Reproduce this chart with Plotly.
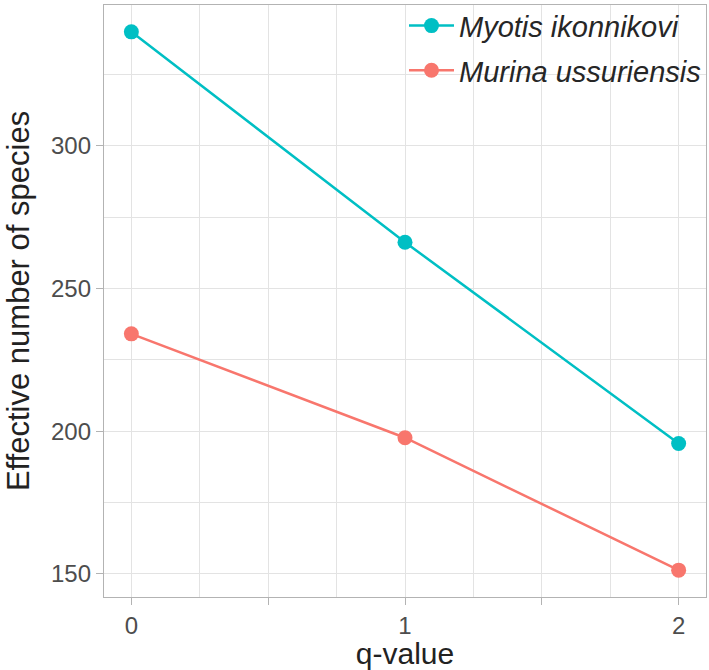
import plotly.graph_objects as go

q_values = [0, 1, 2]
myotis = [339.9, 266.2, 195.7]
murina = [234.1, 197.7, 151.3]
series_names = ["Myotis ikonnikovi", "Murina ussuriensis"]
x_tickvals = [0, 0.5, 1, 1.5, 2]
x_ticktext = ["0", "", "1", "", "2"]
y_tickvals = [150, 200, 250, 300]

teal = "#00BFC4"
salmon = "#F8766D"
font_family = "Liberation Sans, Arial, Helvetica, sans-serif"

fig = go.Figure()
for name, vals, col, grp in [(series_names[0], myotis, teal, "a"), (series_names[1], murina, salmon, "b")]:
    fig.add_trace(go.Scatter(
        x=q_values, y=vals, mode="lines+markers",
        name="<i>" + name + "</i>", legendgroup=grp,
        line=dict(color=col, width=2.5),
        marker=dict(color=col, size=15),
    ))

grid_col = "#E3E3E3"
border_col = "#B3B3B3"
fig.update_layout(
    width=709, height=670,
    margin=dict(l=104, r=3, t=5, b=73, autoexpand=False),
    paper_bgcolor="white", plot_bgcolor="white",
    font=dict(family=font_family, color="#4D4D4D", size=24),
    showlegend=True,
    legend=dict(
        x=1, xanchor="right", y=1.008, yanchor="top",
        bgcolor="rgba(0,0,0,0)", borderwidth=0,
        font=dict(size=29, color="#262626", family=font_family),
        traceorder="grouped", tracegroupgap=4,
        itemwidth=45,
    ),
)
fig.update_xaxes(
    range=[-0.1, 2.1], automargin=False,
    tickvals=x_tickvals, ticktext=x_ticktext,
    ticks="outside", ticklen=7, tickwidth=1.3, tickcolor=border_col,
    showgrid=True, gridcolor=grid_col, gridwidth=1.1,
    minor=dict(dtick=0.25, tick0=0, showgrid=True, gridcolor=grid_col, gridwidth=0.6),
    showline=True, linecolor=border_col, linewidth=1.3, mirror=True,
    zeroline=False,
    tickfont=dict(size=24, color="#4D4D4D"),
    title=dict(text="q-value", font=dict(size=30, color="#222222"), standoff=10),
)
fig.update_yaxes(
    range=[141.9, 349.3], automargin=False,
    tickvals=y_tickvals,
    ticks="outside", ticklen=7, tickwidth=1.3, tickcolor=border_col,
    showgrid=True, gridcolor=grid_col, gridwidth=1.1,
    minor=dict(dtick=25, tick0=0, showgrid=True, gridcolor=grid_col, gridwidth=0.6),
    showline=True, linecolor=border_col, linewidth=1.3, mirror=True,
    zeroline=False,
    tickfont=dict(size=24, color="#4D4D4D"),
    title=dict(text="Effective number of species", font=dict(size=31, color="#222222"), standoff=12),
)

fig.write_html("out.html", config={"displayModeBar": False},
               post_script="document.body.style.margin='0';")
